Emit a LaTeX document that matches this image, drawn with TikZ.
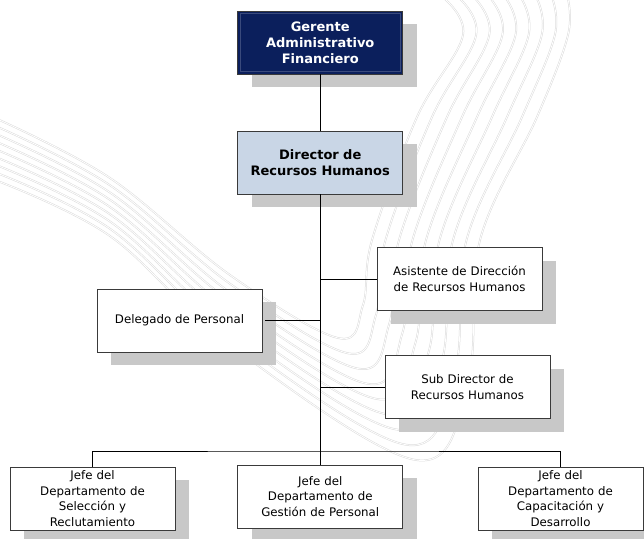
\documentclass[tikz,border=0pt]{standalone}
\usepackage{fontspec}
\setmainfont{DejaVu Sans}
\usetikzlibrary{shadows}
\definecolor{navybox}{HTML}{0B1F5C}
\definecolor{navyline}{HTML}{3A4A7C}
\definecolor{paleblue}{HTML}{C9D6E6}
\definecolor{shade}{HTML}{C8C8C8}
\definecolor{edge}{HTML}{3A3A3A}
\definecolor{swooshgray}{HTML}{DADADA}
\begin{document}
\begin{tikzpicture}[x=1pt,y=-1pt,
  orgbox/.style={draw=edge, line width=0.9pt, fill=white,
    minimum width=165pt, minimum height=63pt, inner sep=0pt,
    text width=160pt, align=center,
    font=\fontsize{11.8}{15.8}\selectfont,
    drop shadow={shadow xshift=14pt, shadow yshift=-13pt, fill=shade, opacity=1}},
  headbox/.style={orgbox, fill=navybox, text=white,
    font=\fontsize{13}{16}\selectfont\bfseries},
  dirbox/.style={orgbox, fill=paleblue,
    font=\fontsize{13}{16}\selectfont\bfseries},
  link/.style={draw=black, line width=0.9pt},
  swoosh/.style={draw=swooshgray, line width=0.5pt, double=white, double distance=0.8pt}
]
\useasboundingbox (0,0) rectangle (644,538);
\clip (0,0) rectangle (644,538);

% faint background swoosh: a bundle of parallel curves
\foreach \k in {0,...,8}{
  \pgfmathsetmacro\f{\k/8}
  \draw[swoosh] plot[smooth, tension=0.6] coordinates {
    (-5,{118+62*\f}) (110,{178+58*\f}) (230,{275+70*\f})
    ({338+78*\f},{338+122*\f}) ({363+105*\f},{305+75*\f})
    ({372+108*\f},240) ({417+120*\f},117) ({463+105*\f},35) ({440+127*\f},-5)};
}

% boxes
\node[headbox] (g) at (320.25,42.5) {Gerente\\Administrativo\\Financiero};
\draw[navyline, line width=0.6pt] ([shift={(3,3)}]g.north west) rectangle ([shift={(-3,-3)}]g.south east);
\node[dirbox] (d) at (320.25,162.5) {Director de\\Recursos Humanos};
\node[orgbox] (a) at (459.5,279) {Asistente de Dirección\\de Recursos Humanos};
\node[orgbox] (del) at (179.5,320.5) {Delegado de Personal};
\node[orgbox] (s) at (467.5,387) {Sub Director de\\Recursos Humanos};
\node[orgbox] (j1) at (92.5,498.5) {Jefe del\\Departamento de\\Selección y\\Reclutamiento};
\node[orgbox] (j2) at (320.25,496.5) {Jefe del\\Departamento de\\Gestión de Personal};
\node[orgbox] (j3) at (560.5,498.5) {Jefe del\\Departamento de\\Capacitación y\\Desarrollo};

% connectors
\coordinate (bus) at (320.25,451);
\draw[link] (g.south) -- (d.north);
\draw[link] (d.south) -- (j2.north);
\draw[link] (d.south |- a.west) -- (a.west);
\draw[link] ([xshift=3pt]del.east) -- (d.south |- del.east);
\draw[link] (d.south |- s.west) -- (s.west);
\draw[link] (j1.north) |- (bus) -| (j3.north);
\end{tikzpicture}
\end{document}
